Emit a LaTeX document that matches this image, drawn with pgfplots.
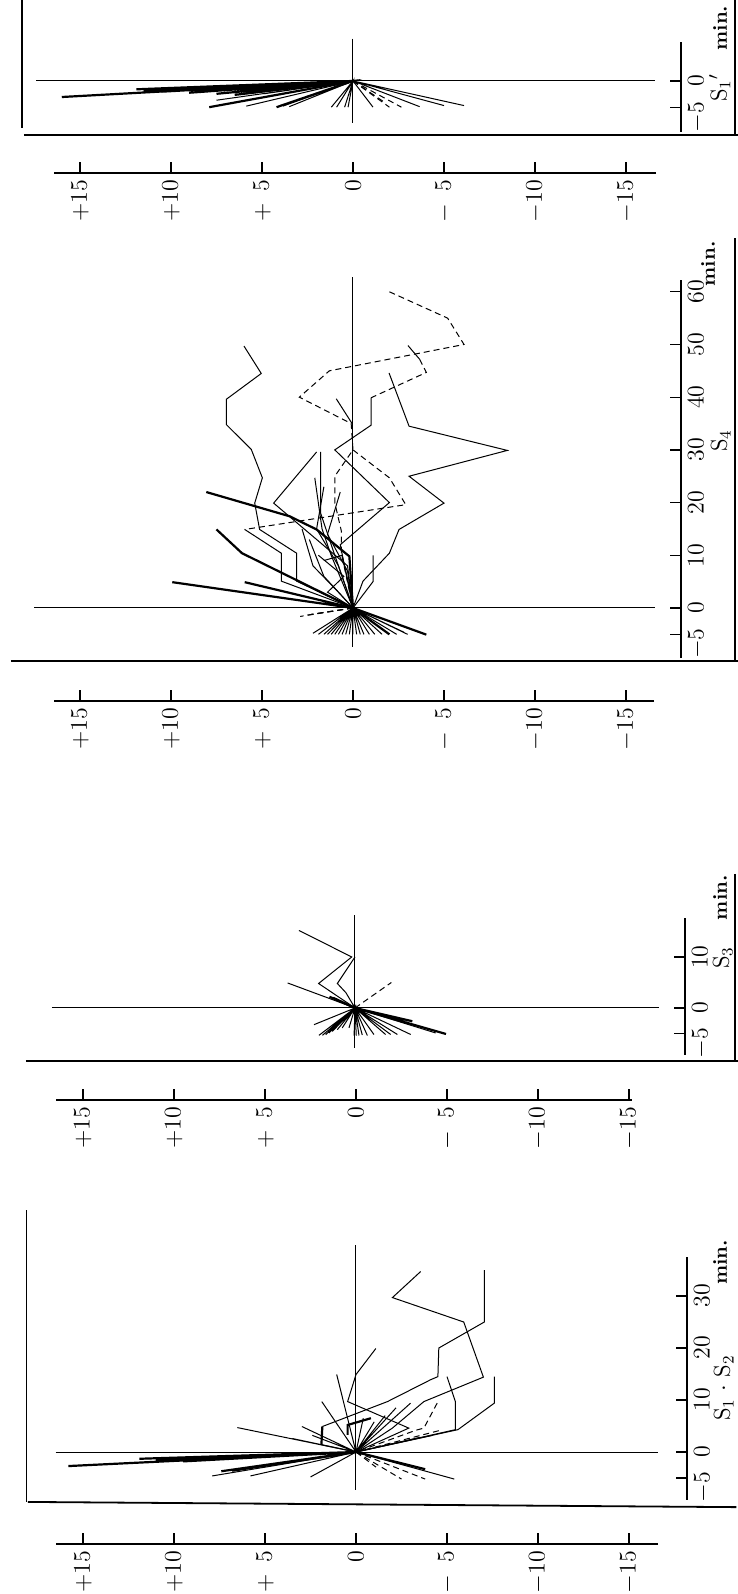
\documentclass[border=0pt]{standalone}
\usepackage{pgfplots}
\pgfplotsset{compat=1.18}
\tikzset{
 thn/.style={black, line width=0.5pt},
 thk/.style={black, line width=1.1pt},
 dsh/.style={black, line width=0.5pt, dash pattern=on 3pt off 2pt},
 frm/.style={black, line width=0.9pt},
 lab/.style={rotate=90, anchor=center, font=\fontsize{11.5}{13}\selectfont},
 minlab/.style={rotate=90, anchor=center, font=\fontsize{10}{11}\selectfont\bfseries},
}
\pgfplotsset{
 dataax/.style={axis lines=none, x dir=reverse, xmin=-18, xmax=18, x=9.1pt, clip=false, anchor=south west},
 scaleax/.style={axis x line*=bottom, axis y line=none, x dir=reverse, x=9.1pt, ymin=0, ymax=1, y=1pt, ytick=\empty,
   xtick={-15,-10,-5,0,5,10,15},
   xticklabels={$-15$,$-10$,$-\phantom{0}5$,$0$,$+\phantom{0}5$,$+10$,$+15$},
   anchor=south west, tick align=inside, major tick length=5.5pt,
   xticklabel style={rotate=90, anchor=east, font=\fontsize{12}{13}\selectfont},
   axis line style={line width=0.6pt}, tick style={black, line width=0.6pt}},
 timeax/.style={axis y line*=right, axis x line=none, xmin=0, xmax=1, x=1pt, xtick=\empty,
   anchor=south east, tick align=inside, major tick length=5.5pt,
   yticklabel style={rotate=90, anchor=north, font=\fontsize{12}{13}\selectfont},
   axis line style={line width=0.6pt}, tick style={black, line width=0.6pt}},
}
\begin{document}
\begin{tikzpicture}[x=1pt,y=1pt]
\useasboundingbox (0,0) rectangle (369,-797);

% ================= Panel S1' (top) =================
\begin{axis}[dataax, ymin=-10.1, ymax=15.2, y=2.675pt, at={(12.7pt,-67.5pt)}]
\addplot[thn] coordinates {(0,7.9) (0,-7.9)};
\addplot[thn] coordinates {(17.4,0) (-16.6,0)};
\addplot[frm] coordinates {(18.08,-10.09) (-21.15,-10.09)};
\addplot[frm] coordinates {(-20.99,15.2) (-20.99,-10.09)};
\addplot[frm] coordinates {(18.2,15.2) (18.2,-8.8)};
\addplot[thk] coordinates {(0,0) (16.0,-3.0) (0,0) (11.9,-1.56) (0,0) (11.5,-1.9) (0,0) (10.5,-2.0) (0,0) (9,-2.2) (0,0) (7.9,-4.9) (0,0) (4.2,-4.9) (0,0) (7.5,-2.4) (0,0) (6.5,-2.6)};
\addplot[thn] coordinates {(0,0) (7.5,-3.6) (0,0) (5.86,-4.7) (0,0) (5.9,-2.4) (0,0) (4.9,-2.4) (0,0) (3.85,-4.7) (0,0) (3.5,-4.8) (0,0) (1.19,-4.9) (0,0) (0.9,-4.9) (0,0) (0.46,-4.9) (0,0) (0.27,-4.9) (0,0) (-1.1,-4.9) (0,0) (-3.66,-4.8) (0,0) (-5.0,-4.6) (0,0) (-6.1,-4.6) (0,0)};
\addplot[dsh] coordinates {(0,0) (-2.0,-4.9)};
\addplot[dsh] coordinates {(0,0) (-2.66,-4.9)};
\addplot[dsh] coordinates {(0,0) (-1.65,-3.8)};
\node[minlab] at (axis cs:-20.16,9.9) {min.};
\node[lab] at (axis cs:-20.15,-1.3) {S$_1{}'$};
\end{axis}
\begin{axis}[scaleax, xmin=-16.65, xmax=16.43, at={(27pt,-86.5pt)}]
\end{axis}
\begin{axis}[timeax, ymin=-9.5, ymax=7.3, y=2.675pt, at={(340.5pt,-65.9pt)},
  ytick={-5,0}, yticklabels={{\llap{$-$}$5$},$0$}]
\end{axis}

% ================= Panel S4 =================
\begin{axis}[dataax, ymin=-10.06, ymax=75, y=2.635pt, at={(12.7pt,-330.5pt)}]
\addplot[thn] coordinates {(0,62.8) (0,-7.4)};
\addplot[thn] coordinates {(17.5,0) (-16.6,0)};
\addplot[frm] coordinates {(18.8,-10.06) (-21.15,-10.06)};
\addplot[frm] coordinates {(-21.0,70.2) (-21.0,-10.06)};
% thick lines
\addplot[thk] coordinates {(7.5,14.9) (6.1,10.4) (0,0)};
\addplot[thk] coordinates {(8.06,22) (3.48,17.4) (2.0,14.9) (0.2,9.8) (0,0)};
\addplot[thk] coordinates {(9.93,4.9) (0,0) (5.95,4.9) (0,0) (-4.03,-5.06) (0,0) (-2.0,-5.0)};
% thin solid lines
\addplot[thn] coordinates {(5.99,49.7) (5.04,44.5) (6.96,39.6) (6.96,34.8) (5.59,30.1) (4.98,24.7) (5.40,19.9) (5.13,14.9) (3.1,10.4) (3.1,5.1) (0,0)};
\addplot[thn] coordinates {(5.95,14.9) (3.94,10.4) (3.94,5.1) (0,0)};
\addplot[thn] coordinates {(-1.98,44.6) (-3.08,34.5) (-8.48,29.9) (-3.08,25.0) (-5.0,19.9) (-2.53,14.9) (-2.0,10.4) (-0.55,5.1) (0,0)};
\addplot[thn] coordinates {(-3.02,49.8) (-3.66,47.2)};
\addplot[dsh] coordinates {(-3.66,47.2) (-4.03,44.7) (-1.0,39.9)};
\addplot[thn] coordinates {(-1.0,39.9) (-1.0,34.7) (1.0,30.0) (-2.0,20.0) (0.7,12) (0,0)};
\addplot[thn] coordinates {(2.0,29.6) (4.36,19.9) (2.0,13) (0.3,8) (0,0)};
\addplot[thn] coordinates {(1.78,29.6) (1.78,18) (1.0,10) (0,0)};
\addplot[thn] coordinates {(0.92,39.7) (0.05,35)};
\addplot[thn] coordinates {(2.1,24.7) (1.7,15) (1.2,10) (0,0)};
\addplot[thn] coordinates {(1.6,23) (2.0,15) (0.8,8) (0,0)};
\addplot[thn] coordinates {(0.7,22) (1.4,14) (0.3,7) (0,0)};
\addplot[thn] coordinates {(2.8,15) (2.2,8) (0.8,3) (0,0)};
\addplot[thn] coordinates {(2.4,13) (1.6,6) (0,0)};
\addplot[thn] coordinates {(1.9,10) (0.5,6) (1.4,3) (0,0)};
\addplot[thn] coordinates {(-1.1,10) (-1.1,5) (0,0)};
\addplot[thn] coordinates {(1.6,9) (0.6,10) (0.2,4) (0,0)};
% dashed lines
\addplot[dsh] coordinates {(-2.0,60) (-5.2,55) (-6.1,50) (1.3,45) (2.95,40) (0.1,35) (0,30) (1.0,25) (1.0,20) (0.64,14.6) (0.64,10.4) (0,0)};
\addplot[dsh] coordinates {(0,30) (-2.0,24.7) (-2.9,19.6) (5.95,14.9)};
\addplot[dsh] coordinates {(0,0) (2.9,-1.6)};
\addplot[dsh] coordinates {(0,0) (2.6,-1.4)};
\addplot[dsh] coordinates {(0,0) (2.3,-1.2)};
% pre-period rays
\addplot[thn] coordinates {(0,0) (1.9,-5) (0,0) (1.6,-5) (0,0) (1.4,-5) (0,0) (1.2,-5) (0,0) (1.0,-5) (0,0) (0.8,-5) (0,0) (0.6,-5) (0,0) (0.4,-5) (0,0) (0.2,-5) (0,0) (0,-5) (0,0) (-0.2,-5) (0,0) (-0.4,-5) (0,0) (-0.6,-5) (0,0) (-0.9,-5) (0,0) (-1.2,-5) (0,0) (-1.6,-5) (0,0) (-2.4,-5) (0,0) (-3.0,-5) (0,0) (2.2,-4.8) (0,0) (-2.8,-4.6) (0,0)};
\node[minlab] at (axis cs:-19.5,65.3) {min.};
\node[lab] at (axis cs:-20.2,31.7) {S$_4$};
\end{axis}
\begin{axis}[scaleax, xmin=-16.54, xmax=16.43, at={(27pt,-350.5pt)}]
\end{axis}
\begin{axis}[timeax, ymin=-9.5, ymax=62.2, y=2.635pt, at={(340.5pt,-329.05pt)},
  ytick={-5,0,10,20,30,40,50,60}, yticklabels={{\llap{$-$}$5$},$0$,$10$,$20$,$30$,$40$,$50$,$60$}]
\end{axis}

% ================= Panel S3 =================
\begin{axis}[dataax, ymin=-10.4, ymax=26.5, y=2.55pt, at={(13.7pt,-530.5pt)}]
\addplot[thn] coordinates {(0,18.2) (0,-7.8)};
\addplot[thn] coordinates {(16.65,0) (-16.7,0)};
\addplot[frm] coordinates {(18.08,-10.4) (-21.04,-10.4)};
\addplot[frm] coordinates {(-20.88,26.3) (-20.88,-10.4)};
\addplot[thn] coordinates {(3.08,15.2) (0.18,10.0) (2.0,4.8) (0,0)};
\addplot[thn] coordinates {(0,10) (0.97,4.8) (0.5,3) (0,0)};
\addplot[thn] coordinates {(3.7,4.9) (0,0)};
\addplot[thk] coordinates {(1.4,2.2) (0,0) (1.2,2.0) (0,0)};
\addplot[dsh] coordinates {(0,0) (-2.0,5.0)};
\addplot[thn] coordinates {(0,0) (1.98,-5.36) (0,0) (1.79,-5.36) (0,0) (1.61,-5.23) (0,0) (1.43,-4.9) (0,0) (1.25,-4.6) (0,0) (0.97,-4.25) (0,0) (0.70,-3.9) (0,0) (0.33,-3.9) (0,0) (0.05,-5.4) (0,0) (-0.07,-5.4) (0,0) (-0.22,-5.4) (0,0) (-0.40,-5.3) (0,0) (-0.68,-5.4) (0,0) (-1.04,-5.2) (0,0) (-1.68,-5.2) (0,0) (-1.96,-5.2) (0,0) (-2.33,-5.2) (0,0) (-3.06,-5.2) (0,0) (-4.43,-4.9) (0,0) (-2.8,-2.9) (0,0) (2.25,-3.27) (0,0)};
\addplot[thk] coordinates {(0,0) (-5.0,-5.1) (0,0) (-3.15,-2.6)};
\node[minlab] at (axis cs:-20.05,21.6) {min.};
\node[lab] at (axis cs:-20.2,9.8) {S$_3$};
\end{axis}
\begin{axis}[scaleax, xmin=-15.15, xmax=16.48, at={(28pt,-550pt)}]
\end{axis}
\begin{axis}[timeax, ymin=-9.2, ymax=17.6, y=2.55pt, at={(342.5pt,-527.46pt)},
  ytick={-5,0,10}, yticklabels={{\llap{$-$}$5$},$0$,$10$}]
\end{axis}

% ================= Panel S1 . S2 (bottom) =================
\begin{axis}[dataax, ymin=-10.6, ymax=46.5, y=2.6pt, at={(14.2pt,-753.56pt)}]
\addplot[thn] coordinates {(0,39.8) (0,-7.3)};
\addplot[thn] coordinates {(16.5,0) (-16.6,0)};
\addplot[frm] coordinates {(18.03,-9.6) (-20.9,-10.6)};
\addplot[frm] coordinates {(18.1,46.5) (18.1,-9.6)};
\addplot[thn] coordinates {(-7.05,35) (-7.05,25) (-4.55,20) (-4.5,14.5) (-4.1,13.9) (-1.73,9.7) (1.85,4.9)};
\addplot[thk] coordinates {(1.85,4.9) (1.9,1.4)};
\addplot[thn] coordinates {(1.9,1.4) (0,0)};
\addplot[thn] coordinates {(-3.55,34.7) (-2.0,29.7) (-5.92,25.0) (-7.0,14.4) (-3.73,9.7) (-2.0,4.6) (0,0)};
\addplot[thn] coordinates {(-1.09,19.9) (0,14.9) (0.46,9.7) (-2.9,4.6) (0,0)};
\addplot[thn] coordinates {(-5.0,14.5) (-5.46,9.7) (-5.46,4.3) (0,0)};
\addplot[thn] coordinates {(-7.6,14.5) (-7.6,9.4) (-5.6,4.3) (0,0)};
\addplot[thn] coordinates {(0,0) (1.06,14.9) (0,0) (6.52,4.7) (0,0) (2.97,4.9) (0,0) (1.88,9.7) (0,0) (-3.0,9.4) (0,0) (-2.2,8.5) (0,0) (-1.6,7.0) (0,0) (-1.0,5.8) (0,0) (-0.4,6.5) (0,0) (2.4,3.2) (0,0) (3.5,2.6) (0,0) (-4.2,3.2) (0,0) (-3.5,2.8) (0,0)};
\addplot[thk] coordinates {(0.46,3.3) (0.46,5.2) (-0.82,6.5)};
\addplot[dsh] coordinates {(-4.46,9.4) (-3.73,4.6) (-3.3,4.2) (0,0)};
\addplot[dsh] coordinates {(-4.55,4.1) (0,0)};
\addplot[thk] coordinates {(0,0) (15.8,-2.7) (0,0) (11.9,-1.3) (0,0) (11,-1.6) (0,0) (9.5,-1.8) (0,0) (7.4,-3.7) (0,0) (6.8,-3.6) (0,0) (-3.8,-3.3)};
\addplot[thn] coordinates {(0,0) (7.9,-4.6) (0,0) (5.8,-4.6) (0,0) (2.5,-4.8) (0,0) (-5.4,-5.2) (0,0)};
\addplot[dsh] coordinates {(0,0) (-2.5,-5.2)};
\addplot[dsh] coordinates {(0,0) (-3.8,-5.2)};
\addplot[dsh] coordinates {(0,0) (-1.1,-2.9)};
\node[minlab] at (axis cs:-20.0,36.5) {min.};
\node[lab] at (axis cs:-20.2,12.3) {S$_1$ $\cdot$ S$_2$};
\end{axis}
\begin{axis}[scaleax, xmin=-16.6, xmax=16.5, at={(27.85pt,-772pt)}]
\end{axis}
\begin{axis}[timeax, ymin=-9.2, ymax=37.5, y=2.6pt, at={(343.5pt,-749.9pt)},
  ytick={-5,0,10,20,30}, yticklabels={{\llap{$-$}$5$},$0$,$10$,$20$,$30$}]
\end{axis}
\end{tikzpicture}
\end{document}
